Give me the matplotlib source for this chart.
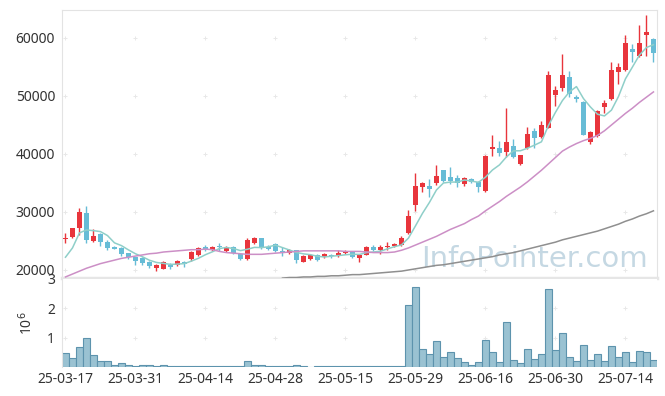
import matplotlib
matplotlib.use("Agg")
import matplotlib.pyplot as plt
import numpy as np

plt.rcParams['font.family'] = ['Noto Sans', 'DejaVu Sans']

# x tick labels, one every 10 trading days
tick_pos = [0, 10, 20, 30, 40, 50, 60, 70, 80]
tick_labels = ["25-03-17", "25-03-31", "25-04-14", "25-04-28", "25-05-15",
               "25-05-29", "25-06-16", "25-06-30", "25-07-14"]

opens = [25300, 25700, 27200, 29800, 25000, 26200, 24800, 24000, 23800, 22900,
         22200, 22100, 21400, 20300, 20200, 20800, 20900, 21300, 21900, 22600,
         23900, 23400, 24100, 23300, 24000, 22800, 21900, 24700, 25500, 24000,
         24500, 23200, 22900, 23400, 21400, 21900, 22600, 22300, 22500, 22400,
         22900, 23100, 22100, 22600, 24000, 23400, 24000, 24100, 24300, 26400,
         31200, 34300, 34500, 35000, 37200, 36000, 35900, 34800, 35700, 35200,
         33600, 40800, 41000, 40300, 41400, 38300, 41000, 44000, 42900, 44500,
         50200, 51400, 53300, 49800, 49000, 42100, 43100, 48100, 49500, 54100,
         54500, 58100, 56900, 60500, 59800]
highs = [26300, 27300, 30700, 31000, 27100, 26400, 25200, 24200, 24000, 23000,
         22300, 22200, 21500, 21000, 21600, 21200, 21700, 21600, 23200, 23900,
         24300, 24200, 24600, 24100, 24100, 23000, 25500, 25700, 25600, 24300,
         24600, 24000, 23600, 23500, 22600, 22800, 22700, 22900, 22700, 23400,
         23500, 23200, 22800, 24200, 24300, 24300, 24800, 24700, 25800, 30300,
         36700, 35200, 35700, 38100, 37300, 37700, 36400, 36000, 35900, 35400,
         39900, 43300, 42200, 47900, 42500, 39900, 44600, 44400, 45700, 54300,
         51800, 57200, 54300, 50200, 49200, 44000, 47600, 49300, 55900, 55700,
         60500, 59000, 62200, 64000, 60000]
lows = [24600, 25500, 26000, 24600, 24800, 24200, 23500, 23600, 22400, 21900,
        20900, 20900, 20400, 19900, 20100, 20100, 20700, 20500, 21500, 22400,
        23300, 23200, 23300, 23100, 22700, 21700, 21800, 24500, 23700, 23500,
        23100, 22400, 22800, 21200, 21300, 21800, 21600, 22000, 22100, 22300,
        22700, 22000, 21300, 22500, 23300, 22700, 23500, 24000, 24200, 26200,
        30200, 33400, 32600, 34700, 35100, 34800, 34300, 34500, 35000, 33400,
        33500, 39600, 39600, 39400, 39300, 38100, 40800, 41000, 42700, 44400,
        48300, 50800, 49900, 49000, 43200, 41800, 43000, 47000, 49300, 52000,
        54300, 55900, 56800, 56900, 55900]
closes = [25600, 27200, 30000, 25200, 25900, 24800, 23800, 23700, 22800, 22200,
          21500, 21200, 20700, 20900, 21400, 20600, 21500, 21100, 23100, 23800,
          23700, 24000, 23900, 24000, 22900, 21900, 25200, 25500, 23800, 23600,
          23300, 23100, 23400, 21700, 22400, 22600, 21700, 22700, 22400, 22900,
          23300, 22200, 22600, 24000, 23400, 24000, 24200, 24500, 25500, 29300,
          34500, 35000, 34000, 36200, 35300, 35300, 35000, 35800, 35200, 34300,
          39700, 41200, 40200, 42100, 39500, 39800, 43400, 42800, 45000, 53600,
          51100, 53600, 50300, 49500, 43300, 43800, 47400, 48800, 54500, 55000,
          59100, 57600, 59100, 61000, 57400]
# volume in millions of shares
volumes = [0.49, 0.32, 0.68, 0.99, 0.42, 0.22, 0.22, 0.08, 0.14, 0.07,
           0.04, 0.07, 0.07, 0.05, 0.07, 0.04, 0.04, 0.04, 0.04, 0.04,
           0.02, 0.04, 0.04, 0.04, 0.02, 0.04, 0.20, 0.08, 0.08, 0.02,
           0.04, 0.04, 0.02, 0.08, 0.02, 0.01, 0.02, 0.02, 0.02, 0.02,
           0.02, 0.02, 0.02, 0.05, 0.02, 0.04, 0.02, 0.02, 0.05, 2.13,
           2.74, 0.62, 0.45, 0.90, 0.35, 0.52, 0.32, 0.18, 0.08, 0.18,
           0.93, 0.52, 0.18, 1.54, 0.25, 0.15, 0.62, 0.28, 0.45, 2.67,
           0.59, 1.17, 0.35, 0.22, 0.76, 0.25, 0.45, 0.22, 0.73, 0.35,
           0.52, 0.18, 0.56, 0.52, 0.25]

# moving averages as drawn on the chart
ma5 = [22200, 23800, 26400, 26900, 26780, 26620, 25940, 24680, 24200, 23460,
       22800, 22280, 21680, 21300, 21140, 20960, 21020, 21100, 21540, 22020,
       22640, 23140, 23700, 23880, 23700, 23340, 23580, 23900, 23860, 24000,
       24280, 23860, 23440, 23020, 22780, 22640, 22360, 22240, 22380, 22480,
       22620, 22720, 22680, 23000, 23100, 23240, 23640, 24020, 24320, 25500,
       27600, 29760, 31660, 33800, 35000, 35160, 35160, 35520, 35320, 35120,
       36000, 37240, 38120, 39500, 40540, 40560, 41000, 41520, 42100, 44920,
       47180, 49220, 50720, 51620, 49560, 48100, 46860, 46560, 47560, 49900,
       52960, 55000, 57060, 58360, 58840]
ma20 = [18800, 19300, 19800, 20300, 20700, 21100, 21400, 21700, 22000, 22200,
        22400, 22600, 22800, 22900, 23100, 23200, 23300, 23400, 23500, 23500,
        23600, 23500, 23200, 23000, 22900, 22800, 22700, 22700, 22700, 22800,
        22900, 23000, 23100, 23200, 23300, 23300, 23300, 23300, 23300, 23300,
        23200, 23200, 23200, 23100, 23000, 23000, 23000, 23100, 23400, 23800,
        24300, 24800, 25300, 25800, 26400, 27000, 27500, 28000, 28700, 29300,
        30200, 31000, 31800, 32700, 33500, 34300, 35200, 36200, 37200, 38300,
        39400, 40500, 41200, 41800, 42300, 42700, 43200, 44000, 45000, 46000,
        47000, 47900, 48900, 49800, 50700]
ma60 = [np.nan] * 31 + [
        18600, 18700, 18700, 18800, 18800, 18900, 18900, 19000, 19000,
        19100, 19200, 19200, 19300, 19400, 19500, 19600, 19700, 19800, 20000,
        20200, 20400, 20600, 20800, 20900, 21100, 21300, 21500, 21700, 21900,
        22100, 22300, 22600, 22800, 23000, 23300, 23600, 23900, 24200, 24500,
        24800, 25200, 25500, 25800, 26100, 26400, 26700, 27100, 27500, 27900,
        28400, 28800, 29300, 29700, 30200]

up_color = '#e8353c'
down_color = '#67bcd6'
frame_color = '#e3e3e3'
text_color = '#333333'


def style_axes(ax):
    for side in ['left', 'top', 'right', 'bottom']:
        ax.spines[side].set_color(frame_color)
    ax.tick_params(length=0, colors=text_color, labelsize=10)


def grid_marks(ax, xs, ys):
    gx, gy = np.meshgrid(xs, ys)
    ax.scatter(gx.ravel(), gy.ravel(), marker='+', s=12, color='#e8e8e8',
               linewidths=0.7, zorder=0)


fig = plt.figure(figsize=(6.65, 3.96), dpi=100)
ax = fig.add_axes([0.0932, 0.298, 0.8947, 0.6768])
ax_vol = fig.add_axes([0.0932, 0.0732, 0.8947, 0.2223], sharex=ax)

x = np.arange(len(closes))
o = np.array(opens)
c = np.array(closes)
is_up = c >= o
colors = np.where(is_up, up_color, down_color)

# candles
ax.vlines(x, lows, highs, colors=colors, linewidth=1, zorder=2)
body_bottom = np.minimum(o, c)
body_height = np.maximum(np.abs(c - o), 120)
ax.bar(x, body_height, bottom=body_bottom, width=0.72, color=colors, zorder=3)

# moving averages
ax.plot(x, ma5, color='#8fcfc9', linewidth=1.1, zorder=4)
ax.plot(x, ma20, color='#cc8fc6', linewidth=1.1, zorder=4)
ax.plot(x, ma60, color='#8f8f8f', linewidth=1.1, zorder=4)

ax.text(0.985, 0.02, 'InfoPointer.com', transform=ax.transAxes, ha='right',
        va='bottom', fontsize=21, color='#b7cfdc', alpha=0.8, zorder=1,
        family='DejaVu Sans')

ax.set_xlim(-0.5, 84.5)
ax.set_ylim(18620, 64830)
ax.set_yticks([20000, 30000, 40000, 50000, 60000])
ax.set_yticklabels(['20000', '30000', '40000', '50000', '60000'])
plt.setp(ax.get_xticklabels(), visible=False)
style_axes(ax)
ax.tick_params(axis='y', pad=5)
ax.spines['bottom'].set_linewidth(2.5)
ax.spines['bottom'].set_color('#e6e6e6')
grid_marks(ax, tick_pos, [20000, 30000, 40000, 50000, 60000])

# volume
ax_vol.bar(x, volumes, width=1.0, color='#9ac2d2', edgecolor='#5d93ad',
           linewidth=0.8, zorder=2)
ax_vol.set_ylim(0, 3)
ax_vol.set_yticks([1, 2, 3])
ax_vol.set_yticklabels(['1', '2', '3'])
ax_vol.set_xticks(tick_pos)
ax_vol.set_xticklabels(tick_labels)
ax_vol.set_ylabel('10$^6$', color=text_color, fontsize=10, labelpad=8)
style_axes(ax_vol)
ax_vol.tick_params(axis='y', pad=5)
ax_vol.spines['top'].set_visible(False)
ax_vol.spines['bottom'].set_visible(False)
ax_vol.spines['right'].set_visible(False)
grid_marks(ax_vol, tick_pos, [1, 2])

fig.savefig('out.png', dpi=100)
